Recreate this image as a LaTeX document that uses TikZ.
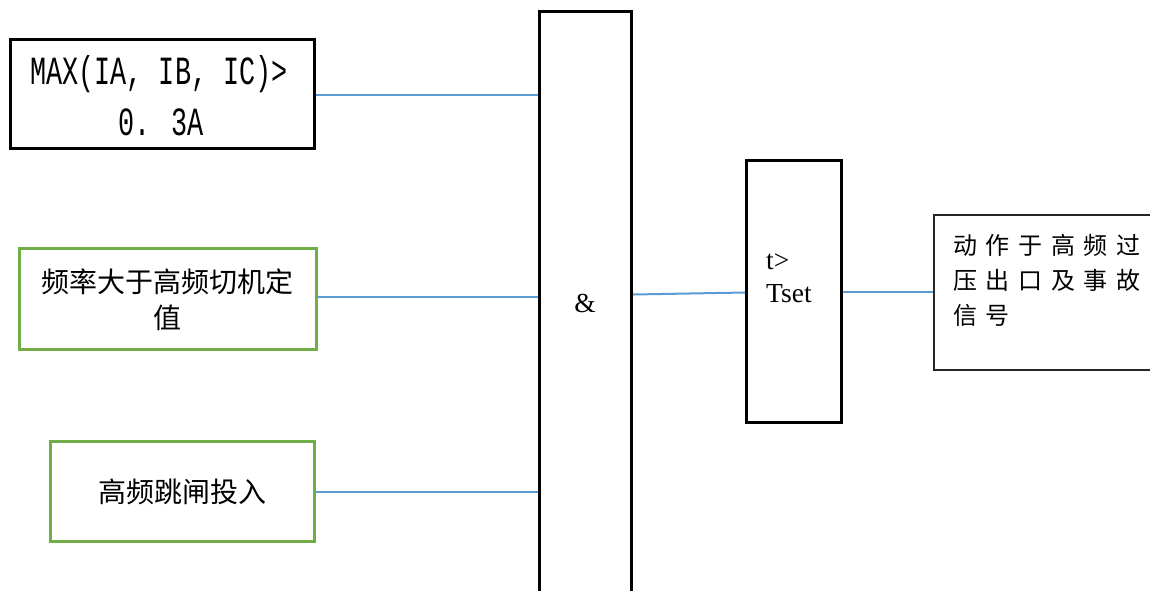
\documentclass[tikz,border=0pt]{standalone}
\usepackage{fontspec}
\setmainfont{Liberation Serif}
\newfontfamily\cjkfont{Noto Sans CJK SC}
\newfontfamily\cjkspaced[LetterSpace=36]{Noto Sans CJK SC}
\newfontfamily\condmono{Liberation Mono}
\definecolor{boxgreen}{HTML}{70AD47}
\definecolor{wireblue}{HTML}{5B9BD5}
\tikzset{
  blackbox/.style={draw=black, line width=3pt, rectangle, inner sep=0pt},
  outbox/.style={draw=black!85, line width=2pt, rectangle, inner sep=0pt},
  greenbox/.style={draw=boxgreen, line width=3pt, rectangle, inner sep=0pt},
  wire/.style={draw=wireblue, line width=2pt},
  cjklabel/.style={font=\cjkfont\fontsize{28pt}{36pt}\selectfont, align=center, inner sep=0pt},
  monolabel/.style={font=\condmono\fontsize{40pt}{40pt}\selectfont, inner sep=0pt},
  serlabel/.style={font=\fontsize{27.5pt}{33pt}\selectfont, inner sep=0pt},
  outlabel/.style={font=\cjkspaced\fontsize{24pt}{35pt}\selectfont, inner sep=0pt},
}
\begin{document}
\begin{tikzpicture}[x=1pt, y=-1pt]
\useasboundingbox (0,0) rectangle (1150,590);
\clip (0,0) rectangle (1150,590);

% input condition boxes
\node[blackbox, minimum width=304pt, minimum height=109pt] (maxi) at (162.5,93.5) {};
\node[monolabel, anchor=base] (maxtxta) at (159,84) {\scalebox{0.67}[1]{MAX(IA, IB, IC)>}};
\node[monolabel, anchor=base] (maxtxtb) at (161,135) {\scalebox{0.67}[1]{0. 3A}};

\node[greenbox, minimum width=297pt, minimum height=101pt] (freq) at (168,299) {};
\node[cjklabel] (freqtxt) at (167,300) {频率大于高频切机定\\值};

\node[greenbox, minimum width=264pt, minimum height=100pt] (trip) at (182.5,491.5) {};
\node[cjklabel] (triptxt) at (182.5,492) {高频跳闸投入};

% AND gate (runs off the lower edge)
\node[blackbox, minimum width=92pt, minimum height=610pt] (andg) at (585.5,316.5) {};
\node[serlabel, anchor=base] (andtxt) at (585,312) {\&};

% time delay block
\node[blackbox, minimum width=95pt, minimum height=262pt] (tbox) at (794,291.5) {};
\node[serlabel, anchor=base west] (ttxta) at (766,269.5) {t>};
\node[serlabel, anchor=base west] (ttxtb) at (766,302) {Tset};

% output box (runs off the right edge)
\node[outbox, minimum width=240pt, minimum height=155pt] (outb) at (1054,292.5) {};
\node[outlabel, anchor=base west] (outa) at (953,254) {动作于高频过};
\node[outlabel, anchor=base west] (outb2) at (953,289) {压出口及事故};
\node[outlabel, anchor=base west] (outc) at (953,324) {信号};

% connectors
\draw[wire] ([yshift=-1.5pt]maxi.east) -- ([yshift=-1.5pt]maxi.east -| andg.west);
\draw[wire] ([yshift=2pt]freq.east) -- ([yshift=2pt]freq.east -| andg.west);
\draw[wire] (trip.east) -- (trip.east -| andg.west);
\draw[wire] ([yshift=-3pt]tbox.west -| andg.east) -- ([yshift=-1pt]tbox.west);
\draw[wire] (tbox.east) -- (tbox.east -| outb.west);
\end{tikzpicture}
\end{document}
